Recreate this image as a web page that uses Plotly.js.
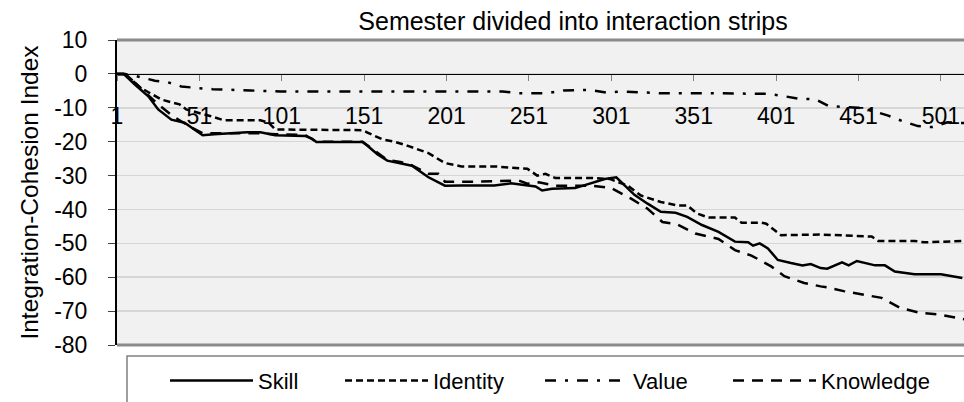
<!DOCTYPE html>
<html>
<head>
<meta charset="utf-8">
<script src="https://cdn.plot.ly/plotly-3.0.1.min.js"></script>
<style>html,body{margin:0;padding:0;background:#fff;}#chart{width:964px;height:402px;}</style>
</head>
<body>
<div id="chart"></div>
<script>
// Series data
var seriesNames = ["Skill", "Identity", "Value", "Knowledge"];

var skillX = [1, 5, 12, 20, 26, 34, 42, 48, 53, 60, 70, 80, 88, 97, 115, 119, 122, 150, 153, 159, 165, 173, 180, 190, 198, 200, 210, 230, 240, 250, 255, 259, 265, 279, 289, 297, 304, 308, 315, 323, 331, 340, 347, 356, 366, 376, 384, 387, 391, 396, 402, 410, 417, 422, 428, 432, 441, 445, 450, 461, 467, 473, 485, 501, 505, 514];
var skillY = [0, 0, -3.2, -6.6, -10.5, -13.5, -14.4, -16.4, -18.1, -17.8, -17.5, -17.2, -17.2, -18.1, -18.3, -19, -20.1, -20.1, -21.2, -23.7, -25.6, -26.3, -27.1, -30.5, -32.5, -33, -32.9, -32.9, -32.3, -33, -33.2, -34.4, -33.9, -33.7, -32.2, -31, -30.5, -32.5, -35.7, -38.3, -40.7, -41, -42.2, -44.6, -46.6, -49.5, -49.7, -50.7, -50, -51.5, -54.9, -55.8, -56.5, -56.1, -57.3, -57.5, -55.6, -56.5, -55.2, -56.5, -56.5, -58.3, -59.1, -59.1, -59.4, -60.2];

var identityX = [1, 6, 15, 28, 39, 43, 58, 66, 88, 93, 97, 115, 150, 153, 162, 170, 178, 190, 200, 210, 230, 250, 256, 261, 267, 289, 300, 311, 319, 331, 341, 347, 353, 360, 376, 380, 392, 395, 404, 428, 459, 463, 485, 491, 515];
var identityY = [0, 0, -4, -7.6, -9, -10.5, -12.5, -13.7, -13.7, -14.4, -16.4, -16.4, -16.6, -17.3, -19.3, -20.1, -21.3, -23.4, -26.3, -27.3, -27.3, -28, -30, -29.5, -30.7, -30.7, -31, -33, -35.9, -37.8, -38.8, -38.8, -41.2, -42.4, -42.4, -43.9, -43.9, -44.2, -47.6, -47.4, -48, -49.3, -49.3, -49.7, -49.3];

var valueX = [1, 5, 12, 24, 32, 40, 50, 59, 82, 100, 150, 170, 235, 245, 262, 272, 287, 298, 308, 317, 330, 360, 377, 396, 405, 414, 425, 433, 451, 460, 469, 478, 487, 496, 505, 515];
var valueY = [0, 0, -0.6, -2, -2.5, -3.7, -4.2, -4.5, -4.9, -5.2, -5.2, -5.2, -5.2, -5.7, -5.7, -4.9, -4.7, -5.5, -5.2, -5.4, -5.7, -5.7, -5.9, -5.9, -6.5, -7.3, -7.5, -9.5, -10, -11, -12.3, -14, -15.4, -15.7, -14.3, -14.5];

var knowledgeX = [1, 6, 15, 26, 35, 45, 53, 60, 88, 97, 115, 122, 150, 165, 173, 180, 190, 196, 200, 220, 245, 250, 257, 267, 289, 301, 313, 323, 332, 341, 352, 366, 376, 386, 398, 406, 418, 428, 432, 442, 453, 465, 476, 488, 500, 515];
var knowledgeY = [0, 0, -4, -9, -12.5, -15.5, -17.5, -17.5, -17.5, -17.8, -18, -20, -20, -25.4, -26, -27, -29.5, -29.5, -31.8, -31.8, -31.5, -32.4, -32, -33, -33, -33.7, -36.8, -39.8, -43.7, -44.4, -47.1, -48.7, -52, -53.6, -56.8, -59.7, -61.7, -62.7, -63, -64.1, -65.1, -66.1, -69, -70.5, -71, -72.4];

var xTickVals = [1, 51, 101, 151, 201, 251, 301, 351, 401, 451, 501];
var yTickVals = [10, 0, -10, -20, -30, -40, -50, -60, -70, -80];

var FONT = "Liberation Sans, Arial, sans-serif";

function tr(name, x, y, dash, legendId) {
  return {type: "scatter", mode: "lines", name: name, x: x, y: y, legend: legendId,
          line: {color: "#000000", width: 2.5, dash: dash}};
}

var data = [
  tr(seriesNames[0], skillX, skillY, "solid", "legend"),
  tr(seriesNames[1], identityX, identityY, "7px,4px", "legend2"),
  tr(seriesNames[2], valueX, valueY, "11px,9px,3px,9px", "legend3"),
  tr(seriesNames[3], knowledgeX, knowledgeY, "11px,8px", "legend4")
];

function leg(pxStart) {
  return {orientation: "h", x: (pxStart - 117) / 847, xanchor: "left", xref: "paper",
          y: -0.117, yanchor: "middle",
          font: {family: FONT, size: 22, color: "#000"}, bgcolor: "rgba(0,0,0,0)", borderwidth: 0,
          itemwidth: 83};
}

var layout = {
  width: 964, height: 402,
  margin: {l: 117, r: 0, t: 40, b: 54, pad: 0},
  paper_bgcolor: "#ffffff",
  plot_bgcolor: "#F1F1F1",
  font: {family: FONT, color: "#000000", size: 22},
  title: {text: "Semester divided into interaction strips", font: {family: FONT, size: 25, color: "#000"},
          x: 573/964, xanchor: "center", xref: "container", y: 1 - 21/402, yanchor: "middle", yref: "container"},
  showlegend: true,
  legend: leg(165),
  legend2: leg(340),
  legend3: leg(540),
  legend4: leg(728),
  xaxis: {
    range: [1, 515], tickmode: "array", tickvals: xTickVals, ticktext: xTickVals.map(String),
    anchor: "free", position: 80/90, side: "bottom",
    showline: true, linecolor: "#000000", linewidth: 1.5,
    ticks: "outside", ticklen: 6, tickcolor: "#808080", tickwidth: 1,
    ticklabelstandoff: 15,
    showgrid: false, zeroline: false,
    tickfont: {family: FONT, size: 23, color: "#000"}
  },
  yaxis: {
    range: [-80, 10], tickmode: "array", tickvals: yTickVals, ticktext: yTickVals.map(String),
    showline: true, linecolor: "#000000", linewidth: 2,
    ticks: "outside", ticklen: 7, tickcolor: "#404040", tickwidth: 1,
    ticklabelstandoff: 16,
    showgrid: true, gridcolor: "#D6D6D6", gridwidth: 1.5, zeroline: false,
    tickfont: {family: FONT, size: 23, color: "#000"},
    title: {text: "Integration-Cohesion Index", font: {family: FONT, size: 24.5, color: "#000"}, standoff: 9}
  },
  shapes: [
    {type: "line", xref: "paper", yref: "paper", x0: 0, x1: 1.02, y0: 1, y1: 1, line: {color: "#8A8A8A", width: 3}},
    {type: "line", xref: "paper", yref: "paper", x0: 0, x1: 1.02, y0: 0, y1: 0, line: {color: "#8A8A8A", width: 3}},
    {type: "rect", xref: "paper", yref: "paper", x0: 10/847, x1: 1.05, y0: -11/308, y1: -0.3, line: {color: "#808080", width: 1.5}, fillcolor: "rgba(0,0,0,0)"}
  ]
};

Plotly.newPlot("chart", data, layout, {displayModeBar: false, staticPlot: true});
</script>
</body>
</html>
